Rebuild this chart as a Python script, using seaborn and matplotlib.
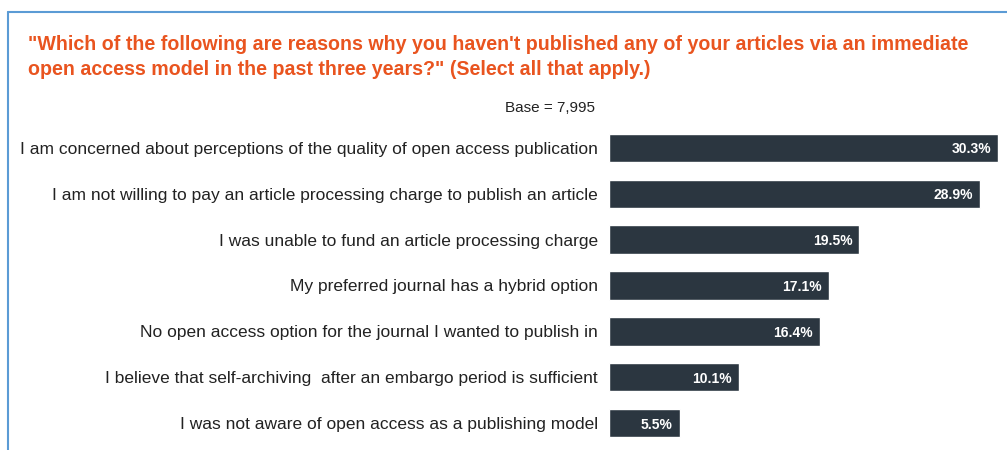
import numpy as np
import pandas as pd
import matplotlib
matplotlib.use("Agg")
import matplotlib.pyplot as plt
from matplotlib.lines import Line2D
import seaborn as sns

reasons = [
    "I am concerned about perceptions of the quality of open access publication",
    "I am not willing to pay an article processing charge to publish an article",
    "I was unable to fund an article processing charge",
    "My preferred journal has a hybrid option",
    "No open access option for the journal I wanted to publish in",
    "I believe that self-archiving  after an embargo period is sufficient",
    "I was not aware of open access as a publishing model",
]
shares = [30.3, 28.9, 19.5, 17.1, 16.4, 10.1, 5.5]
value_labels = ["30.3%", "28.9%", "19.5%", "17.1%", "16.4%", "10.1%", "5.5%"]

title = ("\"Which of the following are reasons why you haven't published any of your articles via an immediate\n"
         "open access model in the past three years?\" (Select all that apply.)")
base_note = "Base = 7,995"

sns.set_theme(style="white")
plt.rcParams['font.family'] = ['Liberation Sans', 'DejaVu Sans']

df = pd.DataFrame({"reason": reasons, "share": shares})

fig = plt.figure(figsize=(10.07, 4.5), dpi=100)
ax = fig.add_axes([609 / 1007, 1 - 446 / 450, 1 - 609 / 1007, 321 / 450])

sns.barplot(data=df, x="share", y="reason", color="#2b3640", saturation=1,
            width=0.62, ax=ax, orient="h")
ax.set_xlim(0, 31.0)
ax.set_ylim(6.5, -0.5)

for i, (v, lab) in enumerate(zip(shares, value_labels)):
    ax.text(v - 0.55, i, lab, ha="right", va="center_baseline", color="white",
            fontsize=10, fontweight="bold")

ax.set_xlabel("")
ax.set_ylabel("")
ax.set_xticks([])
ax.tick_params(axis="y", length=0, pad=8, labelsize=12.5, labelcolor="#222222")
for s in ax.spines.values():
    s.set_visible(False)

fig.text(28 / 1007, 1 - 35 / 450, title, ha="left", va="top", color="#e9541f",
         fontsize=14.1, fontweight="bold", linespacing=1.42)
fig.text(550 / 1007, 1 - 108 / 450, base_note, ha="center", va="center",
         color="#222222", fontsize=11)

# frame of the slide
fig.add_artist(Line2D([8 / 1007, 8 / 1007], [0, 1 - 12 / 450], color="#5b9bd5", lw=1.5))
fig.add_artist(Line2D([8 / 1007, 1], [1 - 12 / 450, 1 - 12 / 450], color="#5b9bd5", lw=1.5))

fig.savefig("out.png", dpi=100)
